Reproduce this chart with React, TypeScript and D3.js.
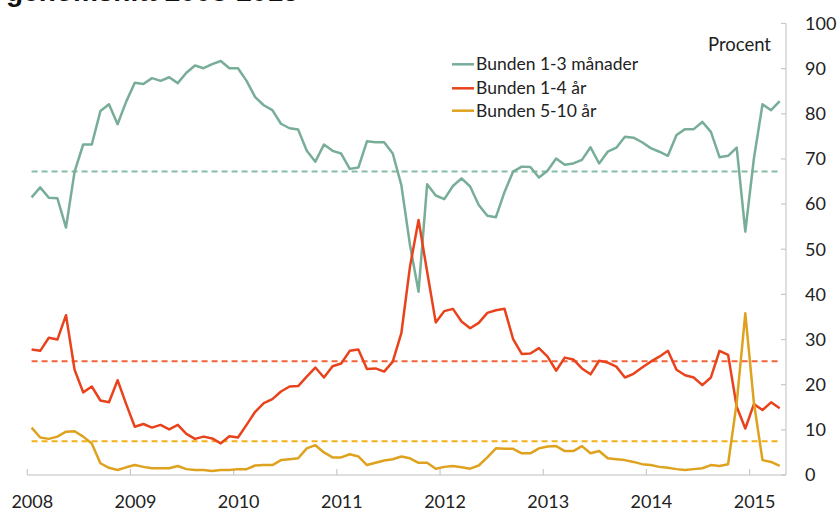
import React from "react";
import * as d3 from "d3";

const WIDTH = 837;
const HEIGHT = 510;

// monthly, jan 2008 - apr 2015
const MONTHS = 88;

const years = ["2008", "2009", "2010", "2011", "2012", "2013", "2014", "2015"];
const yTicks = [0, 10, 20, 30, 40, 50, 60, 70, 80, 90, 100];

const seriesNames = ["Bunden 1-3 månader", "Bunden 1-4 år", "Bunden 5-10 år"];

const bunden13man = [
  61.5, 63.7, 61.4, 61.3, 54.8, 67.2, 73.2, 73.2, 80.6, 82.1,
  77.7, 82.7, 86.9, 86.6, 87.9, 87.3, 88.1, 86.8, 89.1, 90.7,
  90.1, 91.0, 91.7, 90.1, 90.1, 87.3, 83.7, 81.9, 80.8, 77.8,
  76.8, 76.5, 71.8, 69.4, 73.2, 71.8, 71.2, 67.8, 68.1, 73.9,
  73.7, 73.7, 71.2, 64.2, 51.0, 40.6, 64.4, 61.9, 61.1, 64.0,
  65.7, 63.9, 59.8, 57.4, 57.1, 62.7, 67.2, 68.3, 68.2, 65.9,
  67.4, 70.1, 68.7, 69.0, 69.8, 72.6, 69.0, 71.6, 72.5, 74.9,
  74.7, 73.7, 72.4, 71.6, 70.7, 75.3, 76.6, 76.6, 78.2, 76.0,
  70.4, 70.7, 72.5, 53.9, 70.1, 82.1, 80.8, 82.8,
];

const bunden14ar = [
  27.8, 27.5, 30.4, 30.0, 35.4, 23.3, 18.3, 19.6, 16.5, 16.1,
  21.0, 15.7, 10.7, 11.3, 10.5, 11.1, 10.1, 11.1, 9.1, 8.0,
  8.5, 8.1, 7.0, 8.6, 8.3, 11.1, 14.0, 15.9, 16.8, 18.5,
  19.6, 19.7, 21.8, 23.8, 21.6, 24.1, 24.7, 27.5, 27.8, 23.5,
  23.6, 22.9, 25.1, 31.4, 46.1, 56.5, 45.0, 33.8, 36.3, 36.8,
  34.0, 32.5, 33.7, 35.9, 36.5, 36.8, 30.1, 26.8, 26.9, 28.1,
  26.2, 23.1, 26.0, 25.6, 23.6, 22.3, 25.3, 24.9, 24.0, 21.6,
  22.4, 23.8, 25.1, 26.2, 27.5, 23.3, 22.1, 21.6, 19.9, 21.6,
  27.5, 26.6, 15.1, 10.3, 15.7, 14.4, 16.1, 14.8,
];

const bunden510ar = [
  10.5, 8.3, 8.0, 8.5, 9.6, 9.7, 8.5, 7.0, 2.6, 1.6,
  1.1, 1.7, 2.2, 1.8, 1.5, 1.5, 1.5, 2.0, 1.3, 1.1,
  1.1, 0.9, 1.1, 1.1, 1.3, 1.3, 2.1, 2.2, 2.2, 3.3,
  3.5, 3.7, 5.9, 6.6, 5.0, 3.9, 3.9, 4.6, 4.1, 2.2,
  2.7, 3.2, 3.5, 4.1, 3.7, 2.7, 2.7, 1.4, 1.8, 2.0,
  1.7, 1.4, 2.1, 3.9, 5.9, 5.8, 5.8, 4.8, 4.8, 5.9,
  6.3, 6.4, 5.3, 5.3, 6.4, 4.8, 5.3, 3.7, 3.5, 3.3,
  2.9, 2.4, 2.2, 1.8, 1.6, 1.3, 1.1, 1.3, 1.5, 2.2,
  2.0, 2.4, 16.0, 35.8, 16.0, 3.3, 2.9, 2.0,
];

// genomsnitt 2008-2015
const averages = [67.2, 25.2, 7.5];

const colors = ["#78ad98", "#e8431c", "#dea21e"];
const avgColors = ["#86bba6", "#f2643a", "#f2b01c"];

const FONT = "Lato, 'Open Sans', sans-serif";

export default function App() {
  const x = d3.scaleLinear().domain([0, MONTHS]).range([27.3, 784]);
  const y = d3.scaleLinear().domain([0, 100]).range([475, 23.5]);
  const series = [bunden13man, bunden14ar, bunden510ar];

  const line = d3
    .line<number>()
    .x((_, i) => x(i + 0.5))
    .y((d) => y(d));

  const axisX0 = x(0);
  const axisX1 = 786;

  return (
    <svg
      width={WIDTH}
      height={HEIGHT}
      style={{ position: "absolute", left: 0, top: 0, background: "#fff" }}
    >
      {/* title, cut off at the top */}
      <text
        x={6}
        y={1}
        fontFamily="'Liberation Sans', Arial, sans-serif"
        fontWeight="bold"
        fontSize={28}
        fill="#111"
      >
        genomsnitt 2008-2015
      </text>

      {/* x axis */}
      <line x1={axisX0} x2={axisX1} y1={y(0)} y2={y(0)} stroke="#d4d4d4" strokeWidth={1.5} />
      {years.map((yr, i) => {
        const xx = x(i * 12);
        return (
          <g key={yr}>
            <line x1={xx} x2={xx} y1={y(0) - 6} y2={y(0)} stroke="#c8c8c8" strokeWidth={1.2} />
            <text
              x={xx + 5}
              y={508}
              textAnchor="middle"
              fontFamily={FONT}
              fontSize={18}
              fill="#222"
            >
              {yr}
            </text>
          </g>
        );
      })}

      {/* y axis (right) */}
      <line x1={axisX1} x2={axisX1} y1={y(100)} y2={y(0)} stroke="#d4d4d4" strokeWidth={1.5} />
      {yTicks.map((t) => (
        <g key={t}>
          <line x1={axisX1 - 5} x2={axisX1} y1={y(t)} y2={y(t)} stroke="#c8c8c8" strokeWidth={1.2} />
          <text
            x={805}
            y={y(t)}
            dy="0.35em"
            fontFamily={FONT}
            fontSize={18}
            fill="#222"
          >
            {t}
          </text>
        </g>
      ))}
      <text x={771} y={45} dy="0.35em" textAnchor="end" fontFamily={FONT} fontSize={18.5} fill="#222">
        Procent
      </text>

      {/* average lines */}
      {averages.map((a, i) => (
        <line
          key={"avg" + i}
          x1={x(0.5)}
          x2={x(MONTHS - 0.5)}
          y1={y(a)}
          y2={y(a)}
          stroke={avgColors[i]}
          strokeWidth={2}
          strokeDasharray="6,4"
        />
      ))}

      {/* series */}
      {series.map((s, i) => (
        <path
          key={"s" + i}
          d={line(s) ?? ""}
          fill="none"
          stroke={colors[i]}
          strokeWidth={2.5}
          strokeLinejoin="round"
        />
      ))}

      {/* legend */}
      {seriesNames.map((name, i) => {
        const ly = [64.3, 88.3, 110.7][i];
        return (
          <g key={name}>
            <line x1={452} x2={474} y1={ly} y2={ly} stroke={colors[i]} strokeWidth={2.5} />
            <text x={476} y={ly} dy="0.35em" fontFamily={FONT} fontSize={17.5} fill="#222">
              {name}
            </text>
          </g>
        );
      })}
    </svg>
  );
}
